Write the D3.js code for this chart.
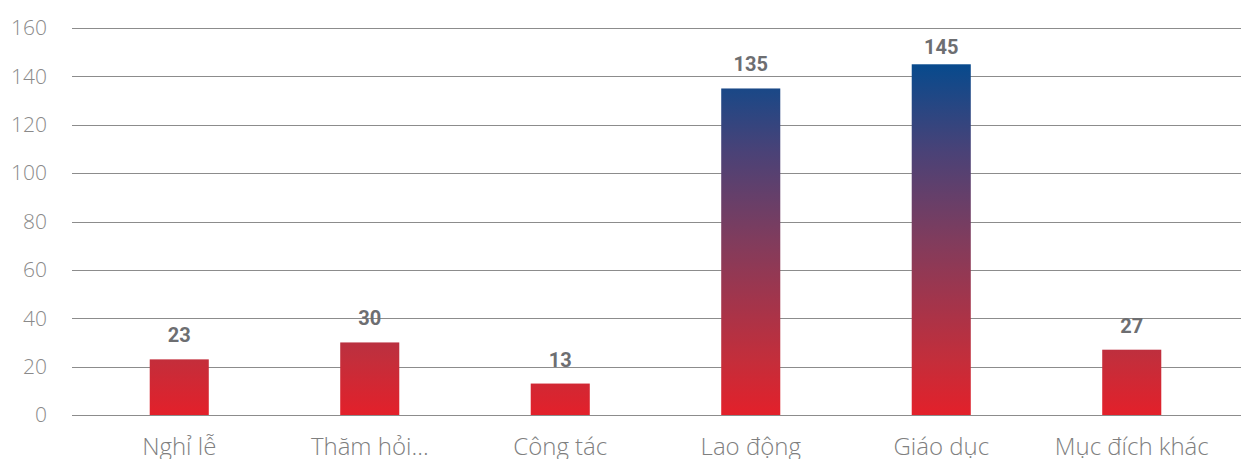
<!DOCTYPE html>
<html lang="vi">
<head>
<meta charset="utf-8">
<title>Mục đích</title>
<script src="https://cdn.jsdelivr.net/npm/d3@7"></script>
<style>
  body { margin: 0; background: #fff; }
  .tick-label { font-family: "Open Sans", sans-serif; font-weight: 300; font-size: 21px; fill: #8a8a8a; }
  .cat-label { font-family: "Open Sans", sans-serif; font-weight: 300; font-size: 24px; fill: #7f7f7f; }
  .val-label { font-family: Roboto, sans-serif; font-weight: 700; font-size: 20px; fill: #6d6e71; }
</style>
</head>
<body>
<script>
// data
var categories = ["Nghỉ lễ", "Thăm hỏi...", "Công tác", "Lao động", "Giáo dục", "Mục đích khác"];
var values = [23, 30, 13, 135, 145, 27];
var yTicks = [0, 20, 40, 60, 80, 100, 120, 140, 160];

var W = 1241, H = 459;

var svg = d3.select("body").append("svg")
  .attr("width", W).attr("height", H);

var x = d3.scaleBand()
  .domain(categories)
  .range([84, 1227])
  .paddingInner(0.69)
  .paddingOuter(0.345);

var y = d3.scaleLinear()
  .domain([0, 160])
  .range([415, 28]);

// gradient across the plot height
var grad = svg.append("defs").append("linearGradient")
  .attr("id", "barGrad")
  .attr("gradientUnits", "userSpaceOnUse")
  .attr("x1", 0).attr("x2", 0)
  .attr("y1", y(0)).attr("y2", y(145));
[[0, "#e3202a"], [0.16, "#c32e3b"], [0.5, "#803c5d"], [0.75, "#4a4277"], [1, "#074a8d"]]
  .forEach(function(s) {
    grad.append("stop").attr("offset", s[0]).attr("stop-color", s[1]);
  });

// grid lines + y labels
var yAxis = svg.append("g");
yAxis.selectAll("line")
  .data(yTicks).enter().append("line")
  .attr("x1", 72).attr("x2", W)
  .attr("y1", function(d) { return Math.round(y(d)) + 0.5; })
  .attr("y2", function(d) { return Math.round(y(d)) + 0.5; })
  .attr("stroke", "#8c8c8c")
  .attr("stroke-width", 1);

yAxis.selectAll("text")
  .data(yTicks).enter().append("text")
  .attr("class", "tick-label")
  .attr("x", 47)
  .attr("y", function(d) { return y(d); })
  .attr("dy", "0.35em")
  .attr("text-anchor", "end")
  .text(function(d) { return d; });

// bars
svg.selectAll("rect.bar")
  .data(values).enter().append("rect")
  .attr("class", "bar")
  .attr("x", function(d, i) { return x(categories[i]); })
  .attr("y", function(d) { return y(d); })
  .attr("width", x.bandwidth())
  .attr("height", function(d) { return y(0) - y(d); })
  .attr("fill", "url(#barGrad)");

// value labels
svg.selectAll("text.val-label")
  .data(values).enter().append("text")
  .attr("class", "val-label")
  .attr("x", function(d, i) { return x(categories[i]) + x.bandwidth() / 2; })
  .attr("y", function(d) { return Math.max(y(d) - 17, 54); })
  .attr("text-anchor", "middle")
  .text(function(d) { return d; });

// category labels
svg.selectAll("text.cat-label")
  .data(categories).enter().append("text")
  .attr("class", "cat-label")
  .attr("x", function(d) { return x(d) + x.bandwidth() / 2; })
  .attr("y", 455)
  .attr("text-anchor", "middle")
  .text(function(d) { return d; });
</script>
</body>
</html>
